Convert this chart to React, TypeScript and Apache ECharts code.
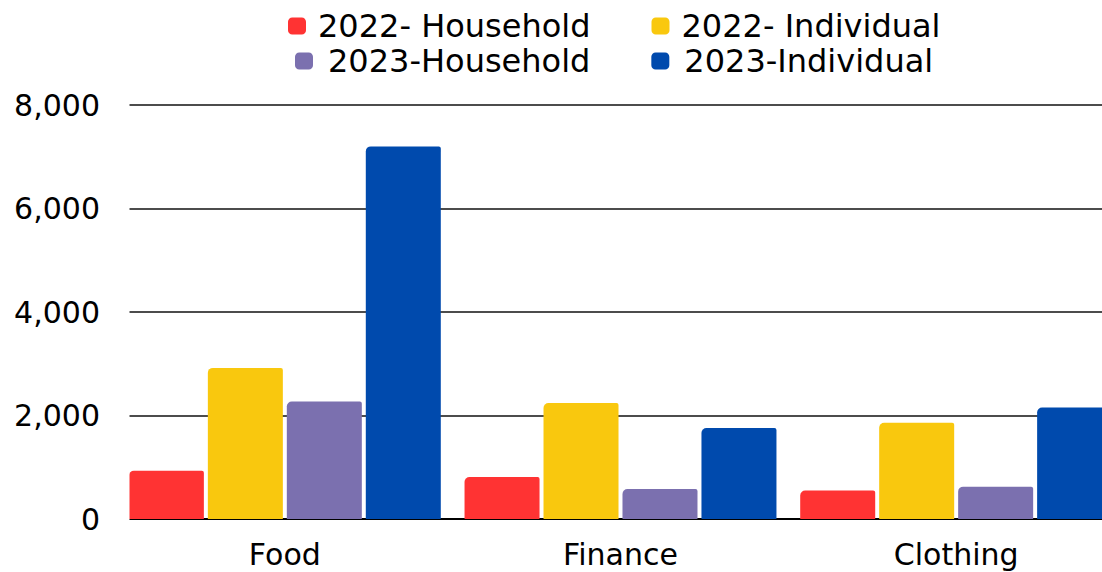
import React, { useEffect, useRef } from "react";
import * as echarts from "echarts";

const categories = ["Food", "Finance", "Clothing"];
const seriesNames = ["2022- Household", "2022- Individual", "2023-Household", "2023-Individual"];
const household2022 = [930, 810, 550];
const individual2022 = [2920, 2240, 1860];
const household2023 = [2270, 580, 625];
const individual2023 = [7200, 1760, 2155];
const yTicks = [0, 2000, 4000, 6000, 8000];
const colors = ["#FF3333", "#F9C80E", "#7B70AF", "#004AAD"];

const FONT = "DejaVu Sans";

export default function App() {
  const ref = useRef<HTMLDivElement>(null);
  useEffect(() => {
    if (!ref.current) return;
    const chart = echarts.init(ref.current, undefined, { renderer: "svg" });
    const values = [household2022, individual2022, household2023, individual2023];
    const legendText = (padLeft: number) => ({
      fontFamily: FONT,
      fontSize: 32,
      color: "#000",
      lineHeight: 36,
      padding: [0, 0, 0, padLeft],
    });
    chart.setOption({
      animation: false,
      backgroundColor: "#fff",
      legend: [
        {
          data: [seriesNames[0], seriesNames[1]],
          left: 288,
          top: 8,
          padding: 0,
          itemWidth: 18,
          itemHeight: 17,
          itemGap: 61,
          icon: "roundRect",
          textStyle: legendText(7),
        },
        {
          data: [seriesNames[2], seriesNames[3]],
          left: 295,
          top: 43,
          padding: 0,
          itemWidth: 18,
          itemHeight: 17,
          itemGap: 61,
          icon: "roundRect",
          textStyle: legendText(10),
        },
      ],
      grid: { left: 117, right: 0, top: 105, bottom: 53, containLabel: false },
      xAxis: {
        type: "category",
        data: categories,
        axisLine: { show: true, lineStyle: { color: "#000", width: 2 } },
        axisTick: { show: false },
        axisLabel: { fontFamily: FONT, fontSize: 30, color: "#000", margin: 20 },
      },
      yAxis: {
        type: "value",
        min: yTicks[0],
        max: yTicks[yTicks.length - 1],
        interval: 2000,
        axisLine: { show: false },
        axisTick: { show: false },
        axisLabel: {
          fontFamily: FONT,
          fontSize: 30,
          color: "#000",
          margin: 17,
          formatter: (v: number) => v.toLocaleString("en-US"),
        },
        splitLine: { show: true, lineStyle: { color: "#111", width: 1.5 } },
      },
      graphic: [
        {
          type: "rect",
          shape: { x: 104, y: 95, width: 25.5, height: 435 },
          style: { fill: "#fff" },
          z: 100,
        },
      ],
      series: seriesNames.map((name, i) => ({
        name,
        type: "bar",
        data: values[i],
        barWidth: 75,
        barGap: "5.3%",
        itemStyle: { color: colors[i], borderRadius: [5, 2, 0, 0] },
      })),
    });
    return () => chart.dispose();
  }, []);
  return (
    <div
      style={{
        position: "absolute",
        left: 0,
        top: 0,
        width: 1102,
        height: 572,
        overflow: "hidden",
        background: "#fff",
      }}
    >
      <div ref={ref} style={{ width: 1124, height: 572 }} />
    </div>
  );
}
